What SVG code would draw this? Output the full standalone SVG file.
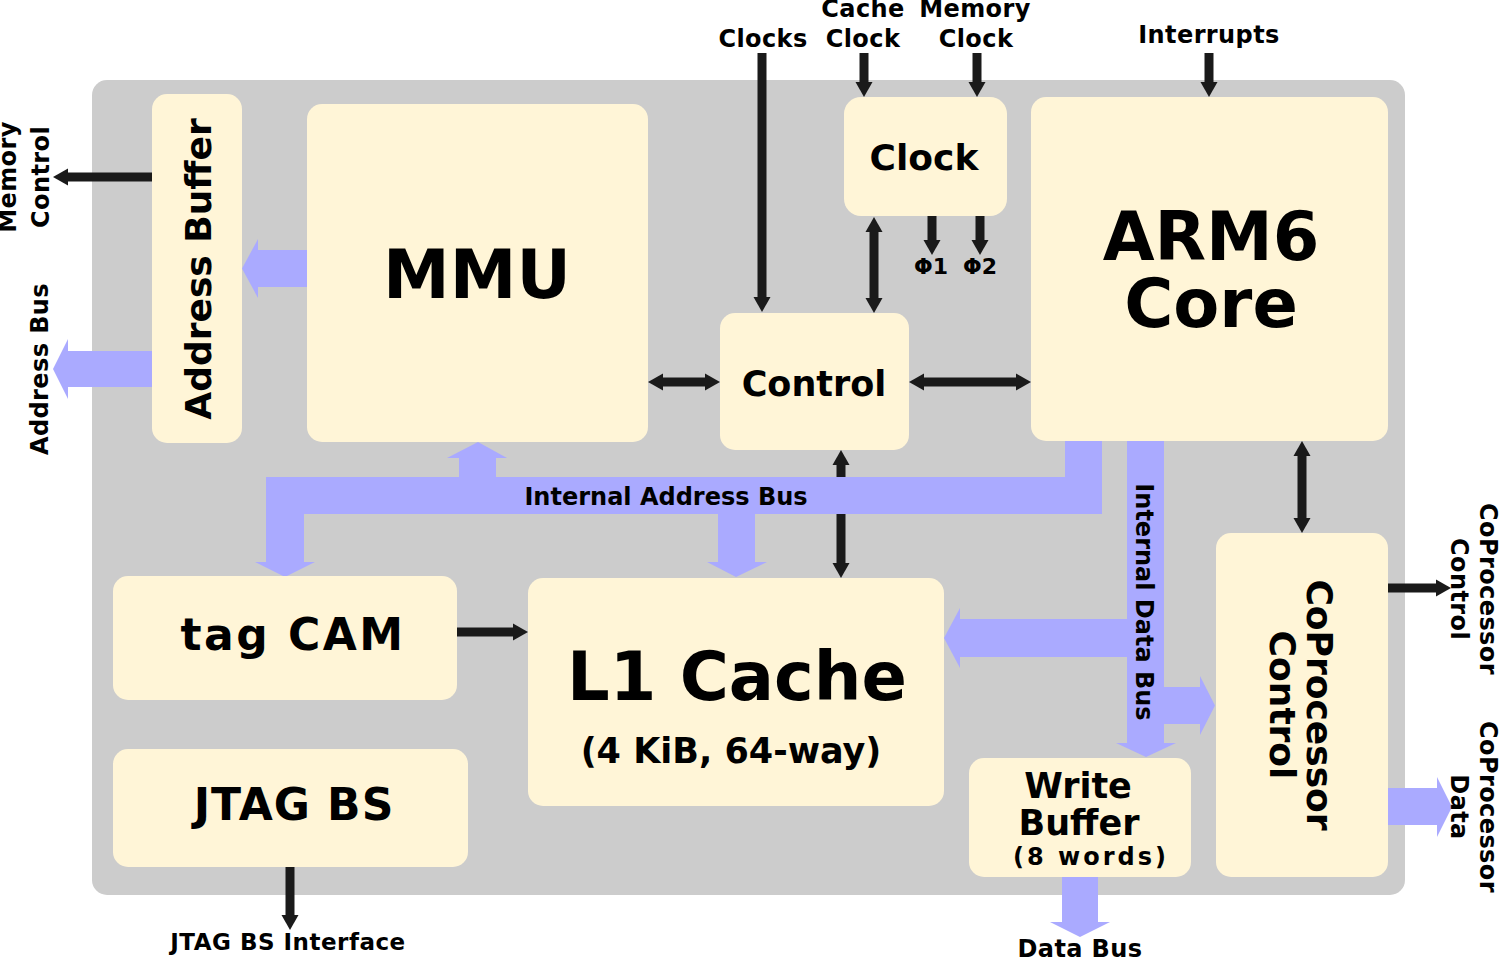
<svg xmlns="http://www.w3.org/2000/svg" width="1500" height="959" viewBox="0 0 1500 959">
<defs>
<style>
.bg{fill:#cccccc}
.node{fill:#fff5d7}
.t{font-family:"DejaVu Sans","Liberation Sans",sans-serif;font-weight:bold;fill:#000;text-anchor:middle}
.s{font-size:24px;letter-spacing:0.4px}
.bus{fill:#aaaaff}
.wire{stroke:#1a1a1a;stroke-width:9;fill:none}
.one{marker-end:url(#ah)}
.two{marker-start:url(#ah);marker-end:url(#ah)}
</style>
<marker id="ah" markerUnits="userSpaceOnUse" markerWidth="16" markerHeight="18" refX="0" refY="8.5" orient="auto-start-reverse" overflow="visible">
<path d="M0,0 L15,8.5 L0,17 Z" fill="#1a1a1a"/>
</marker>
</defs>
<rect class="bg" x="92" y="80" width="1313" height="815" rx="15"/>

<g id="connectors">
<path class="wire one" d="M152,177 H68"/>
<path class="wire one" d="M762,53 V297"/>
<path class="wire one" d="M864,53 V82"/>
<path class="wire one" d="M977,53 V82"/>
<path class="wire one" d="M1209,53 V82"/>
<path class="wire two" d="M874,232 V298"/>
<path class="wire one" d="M932,216 V240"/>
<path class="wire one" d="M980,216 V240"/>
<path class="wire two" d="M663,382 H705"/>
<path class="wire two" d="M924,382 H1016"/>
<path class="wire two" d="M841,465 V563"/>
<path class="wire two" d="M1302,456 V518"/>
<path class="wire one" d="M457,632 H513"/>
<path class="wire one" d="M1388,588 H1436"/>
<path class="wire one" d="M290,867 V915"/>
<polygon class="bus" points="307,250 258,250 258,239 242,268.5 258,298 258,287 307,287"/>
<polygon class="bus" points="152,351 68,351 68,339 53,369 68,399 68,387 152,387"/>
<polygon class="bus" points="266,477 1065,477 1065,441 1102,441 1102,514 755,514 755,562 767,562 736,577 707,562 718,562 718,514 304,514 304,562 315,562 285,577 255,562 266,562"/>
<polygon class="bus" points="459,478 459,458 447,458 478,442 507,458 496,458 496,478"/>
<polygon class="bus" points="1127,441 1164,441 1164,687 1200,687 1200,676 1215,705.5 1200,735 1200,724 1164,724 1164,743 1176,743 1146,757 1116,743 1127,743 1127,657 960,657 960,668 944,638 960,608 960,619 1127,619"/>
<polygon class="bus" points="1062,877 1098,877 1098,922 1110,922 1080,937 1050,922 1062,922"/>
<polygon class="bus" points="1388,788 1437,788 1437,777 1452,807 1437,837 1437,825 1388,825"/>
<text class="t" x="666" y="505" font-size="24">Internal Address Bus</text>
<text class="t" transform="translate(1136,602) rotate(90)" font-size="24">Internal Data Bus</text>
</g>

<g id="addressbuffer">
<rect class="node" x="152" y="94" width="90" height="349" rx="15"/>
<text class="t" transform="translate(211,269) rotate(-90)" font-size="36">Address Buffer</text>
</g>
<g id="mmu">
<rect class="node" x="307" y="104" width="341" height="338" rx="15"/>
<text class="t" x="477" y="298" font-size="67">MMU</text>
</g>
<g id="clock">
<rect class="node" x="844" y="97" width="163" height="119" rx="17"/>
<text class="t" x="924" y="170" font-size="36">Clock</text>
</g>
<g id="control">
<rect class="node" x="720" y="313" width="189" height="137" rx="15"/>
<text class="t" x="814" y="396" font-size="35">Control</text>
</g>
<g id="arm6core">
<rect class="node" x="1031" y="97" width="357" height="344" rx="15"/>
<text class="t" x="1211" y="260" font-size="67">ARM6</text>
<text class="t" x="1211" y="327" font-size="67">Core</text>
</g>
<g id="tagcam">
<rect class="node" x="113" y="576" width="344" height="124" rx="15"/>
<text class="t" x="293" y="650" font-size="44" letter-spacing="2.5">tag CAM</text>
</g>
<g id="jtagbs">
<rect class="node" x="113" y="749" width="355" height="118" rx="15"/>
<text class="t" x="294" y="820" font-size="44" letter-spacing="1">JTAG BS</text>
</g>
<g id="l1cache">
<rect class="node" x="528" y="578" width="416" height="228" rx="15"/>
<text class="t" x="737" y="700" font-size="67">L1 Cache</text>
<text class="t" x="731" y="763" font-size="35">(4 KiB, 64-way)</text>
</g>
<g id="writebuffer">
<rect class="node" x="969" y="758" width="222" height="119" rx="15"/>
<text class="t" x="1078" y="798" font-size="35">Write</text>
<text class="t" x="1079" y="835" font-size="35">Buffer</text>
<text class="t" x="1091" y="865" font-size="24" letter-spacing="3">(8 words)</text>
</g>
<g id="coprocessorcontrol">
<rect class="node" x="1216" y="533" width="172" height="344" rx="15"/>
<text class="t" transform="translate(1307,705) rotate(90)" font-size="36"><tspan x="0" y="0">CoProcessor</tspan><tspan x="0" y="37">Control</tspan></text>
</g>

<g id="labels">
<text class="t s" x="763" y="47">Clocks</text>
<text class="t s" x="863" y="17">Cache</text>
<text class="t s" x="863" y="47">Clock</text>
<text class="t s" x="975" y="17">Memory</text>
<text class="t s" x="976" y="47">Clock</text>
<text class="t s" x="1209" y="43">Interrupts</text>
<text class="t" x="931" y="274" font-size="22">Φ1</text>
<text class="t" x="980" y="274" font-size="22">Φ2</text>
<text class="t s" transform="translate(16,177) rotate(-90)"><tspan x="0" y="0">Memory</tspan><tspan x="0" y="33">Control</tspan></text>
<text class="t s" transform="translate(48,369) rotate(-90)">Address Bus</text>
<text class="t s" transform="translate(1480,589) rotate(90)"><tspan x="0" y="0">CoProcessor</tspan><tspan x="0" y="29">Control</tspan></text>
<text class="t s" transform="translate(1480,807) rotate(90)"><tspan x="0" y="0">CoProcessor</tspan><tspan x="0" y="29">Data</tspan></text>
<text class="t s" x="1080" y="957">Data Bus</text>
<text class="t" x="288" y="950" font-size="23" letter-spacing="0.5">JTAG BS Interface</text>
</g>
</svg>
